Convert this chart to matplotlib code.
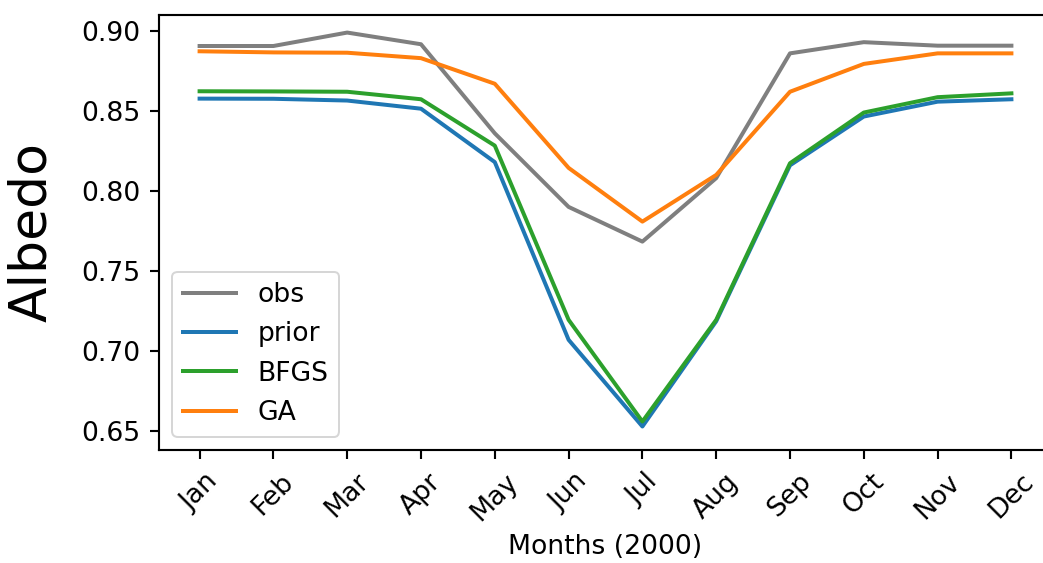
import numpy as np
import matplotlib
matplotlib.use('Agg')
import matplotlib.pyplot as plt

months = ['Jan', 'Feb', 'Mar', 'Apr', 'May', 'Jun',
          'Jul', 'Aug', 'Sep', 'Oct', 'Nov', 'Dec']
obs = [0.8906, 0.8906, 0.8990, 0.8917, 0.8360, 0.7900,
       0.7683, 0.8080, 0.8860, 0.8930, 0.8908, 0.8908]
prior = [0.8577, 0.8576, 0.8565, 0.8514, 0.8180, 0.7069,
         0.6527, 0.7185, 0.8160, 0.8465, 0.8558, 0.8573]
bfgs = [0.8623, 0.8622, 0.8620, 0.8573, 0.8283, 0.7194,
        0.6558, 0.7194, 0.8173, 0.8490, 0.8586, 0.8610]
ga = [0.8873, 0.8866, 0.8864, 0.8830, 0.8670, 0.8144,
      0.7808, 0.8100, 0.8620, 0.8794, 0.8860, 0.8860]

# reference looks like a default plot scaled up by ~1.33
s = 1.33
plt.rcParams['font.size'] = 10 * s
plt.rcParams['lines.linewidth'] = 1.5 * s
plt.rcParams['axes.linewidth'] = 0.8 * s
for a in ('xtick', 'ytick'):
    plt.rcParams[a + '.major.size'] = 3.5 * s
    plt.rcParams[a + '.major.width'] = 0.8 * s
    plt.rcParams[a + '.major.pad'] = 3.5 * s

x = np.arange(len(months))

fig = plt.figure(figsize=(1043 / 144, 563 / 144), dpi=144)
ax = fig.add_axes([159 / 1043, 0.2007, 893 / 1043, 0.7727])

ax.plot(x, obs, color='tab:gray', label='obs')
ax.plot(x, prior, color='tab:blue', label='prior')
ax.plot(x, bfgs, color='tab:green', label='BFGS')
ax.plot(x, ga, color='tab:orange', label='GA')

ax.set_xlim(-0.55, 11.55)
ax.set_ylim(0.638, 0.910)
ax.set_yticks([0.65, 0.70, 0.75, 0.80, 0.85, 0.90])
ax.set_xticks(x)
ax.set_xticklabels(months, rotation=45)
ax.set_xlabel('Months (2000)')
ax.set_ylabel('Albedo', fontsize=26, labelpad=12)
ax.legend(loc='lower left')

fig.savefig('out.png', dpi=144)
